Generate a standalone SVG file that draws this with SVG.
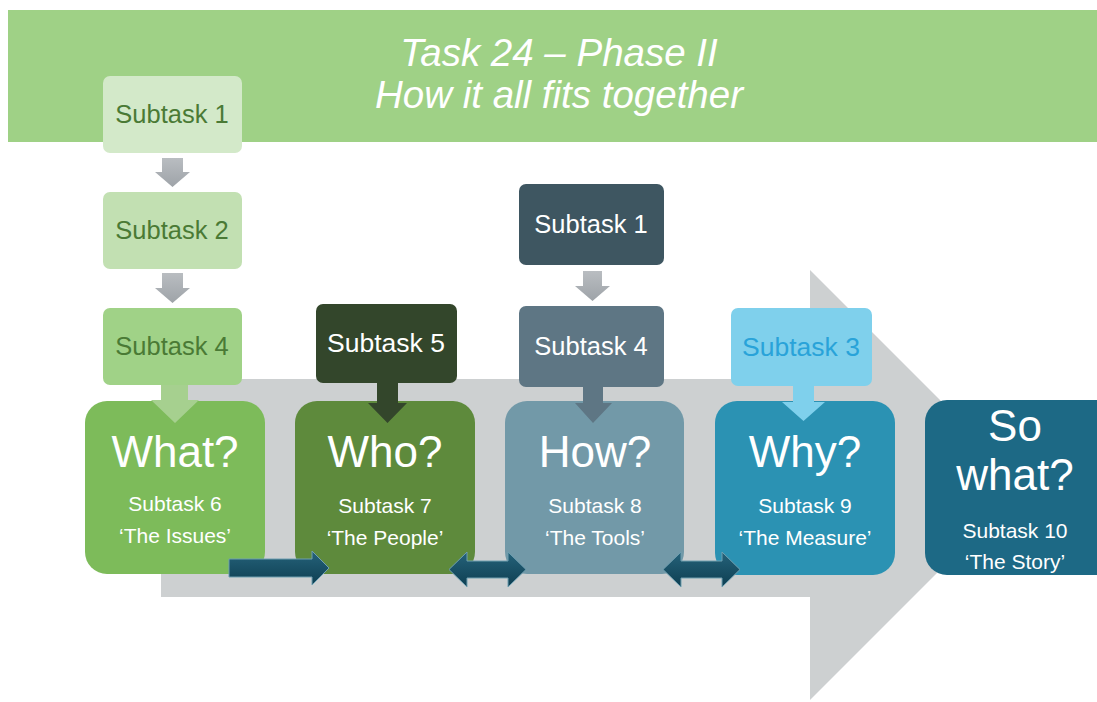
<svg xmlns="http://www.w3.org/2000/svg" width="1097" height="702" viewBox="0 0 1097 702">
<defs>
<style>
.t{font-family:"Liberation Sans",Arial,sans-serif;text-anchor:middle}
.title{font-size:38.5px;font-style:italic;fill:#ffffff}
.big{font-size:44px;fill:#ffffff}
.mid{font-size:21px;fill:#ffffff}
.sub{font-size:25.5px}
.subL{font-size:26.5px}
.con{fill:url(#tealGrad);stroke:#6f9fb0;stroke-width:1}
.grayArr{fill:url(#grayGrad)}
</style>
<linearGradient id="tealGrad" x1="0" y1="0" x2="0" y2="1">
<stop offset="0" stop-color="#25627a"/>
<stop offset="1" stop-color="#0e3f52"/>
</linearGradient>
<linearGradient id="grayGrad" x1="0" y1="0" x2="0" y2="1">
<stop offset="0" stop-color="#b9bdc1"/>
<stop offset="1" stop-color="#9ea3a8"/>
</linearGradient>
</defs>
<rect width="1097" height="702" fill="#ffffff"/>
<g id="header">
<rect x="8" y="10" width="1089" height="132" fill="#9fd186"/>
<text class="t title" x="559" y="66">Task 24 – Phase II</text>
<text class="t title" x="559" y="108">How it all fits together</text>
</g>
<g id="bigArrow">
<polygon points="161,379 810,379 810,270 1025,485 810,700 810,597 161,597" fill="#cdd0d1"/>
</g>
<g id="what">
<rect x="85" y="401" width="180" height="173" rx="22" fill="#7dbb5a"/>
<text class="t big" x="175" y="467">What?</text>
<text class="t mid" x="175" y="511">Subtask 6</text>
<text class="t mid" x="175" y="543">‘The Issues’</text>
</g>
<g id="who">
<rect x="295" y="401" width="180" height="173" rx="22" fill="#5e8a3c"/>
<text class="t big" x="385" y="467">Who?</text>
<text class="t mid" x="385" y="513">Subtask 7</text>
<text class="t mid" x="385" y="545">‘The People’</text>
</g>
<g id="how">
<rect x="505" y="401" width="179" height="173" rx="22" fill="#7299a8"/>
<text class="t big" x="595" y="467">How?</text>
<text class="t mid" x="595" y="513">Subtask 8</text>
<text class="t mid" x="595" y="545">‘The Tools’</text>
</g>
<g id="why">
<rect x="715" y="401" width="180" height="174" rx="22" fill="#2b92b3"/>
<text class="t big" x="805" y="467">Why?</text>
<text class="t mid" x="805" y="513">Subtask 9</text>
<text class="t mid" x="805" y="545">‘The Measure’</text>
</g>
<g id="sowhat">
<rect x="925" y="400" width="200" height="175" rx="22" fill="#1d6985"/>
<text class="t big" x="1015" y="441">So</text>
<text class="t big" x="1015" y="490">what?</text>
<text class="t mid" x="1015" y="538">Subtask 10</text>
<text class="t mid" x="1015" y="569">‘The Story’</text>
</g>
<g id="whatSub1">
<rect x="103" y="76" width="139" height="77" rx="7" fill="#d3e9c9"/>
<text class="t sub" x="172" y="123" fill="#4a7a35">Subtask 1</text>
</g>
<g id="whatSub2">
<rect x="103" y="192" width="139" height="77" rx="7" fill="#c2e0b2"/>
<text class="t sub" x="172" y="239" fill="#4a7a35">Subtask 2</text>
</g>
<g id="whatSub4">
<rect x="103" y="308" width="139" height="77" rx="7" fill="#a0d287"/>
<text class="t sub" x="172" y="355" fill="#4a7a35">Subtask 4</text>
</g>
<g id="whoSub5">
<rect x="316" y="304" width="141" height="79" rx="7" fill="#33462b"/>
<text class="t subL" x="386" y="352" fill="#ffffff">Subtask 5</text>
</g>
<g id="howSub1">
<rect x="519" y="184" width="145" height="81" rx="7" fill="#3e5661"/>
<text class="t sub" x="591" y="233" fill="#ffffff">Subtask 1</text>
</g>
<g id="howSub4">
<rect x="519" y="306" width="145" height="81" rx="7" fill="#5e7684"/>
<text class="t sub" x="591" y="355" fill="#ffffff">Subtask 4</text>
</g>
<g id="whySub3">
<rect x="731" y="308" width="141" height="78" rx="7" fill="#7fd0ec"/>
<text class="t subL" x="801" y="356" fill="#29a3d9">Subtask 3</text>
</g>
<g id="connectors">
<polygon class="grayArr" points="162,158 183,158 183,172 190,172 172.5,187 155,172 162,172"/>
<polygon class="grayArr" points="162,273 183,273 183,288 190,288 172.5,303 155,288 162,288"/>
<polygon class="grayArr" points="583,271 602,271 602,286 610,286 592.5,301 575,286 583,286"/>
<polygon points="161,385 188,385 188,400 199,400 175,423 151,400 161,400" fill="#a6d08f"/>
<polygon points="377,383 398,383 398,403 407,403 387.5,423 368,403 377,403" fill="#33462b"/>
<polygon points="583,387 603,387 603,403 612,403 593,423 575,403 583,403" fill="#5e7684"/>
<polygon points="793,386 814,386 814,402 825,402 803.5,421 782,402 793,402" fill="#7fd0ec"/>
<polygon class="con" points="229,559 312,559 312,551 329,568 312,585 312,577 229,577"/>
<polygon class="con" points="449,569.5 467,552 467,561 508,561 508,552 526,569.5 508,587 508,578 467,578 467,587"/>
<polygon class="con" points="663,569.5 681,552 681,561 722,561 722,552 740,569.5 722,587 722,578 681,578 681,587"/>
</g>
</svg>
